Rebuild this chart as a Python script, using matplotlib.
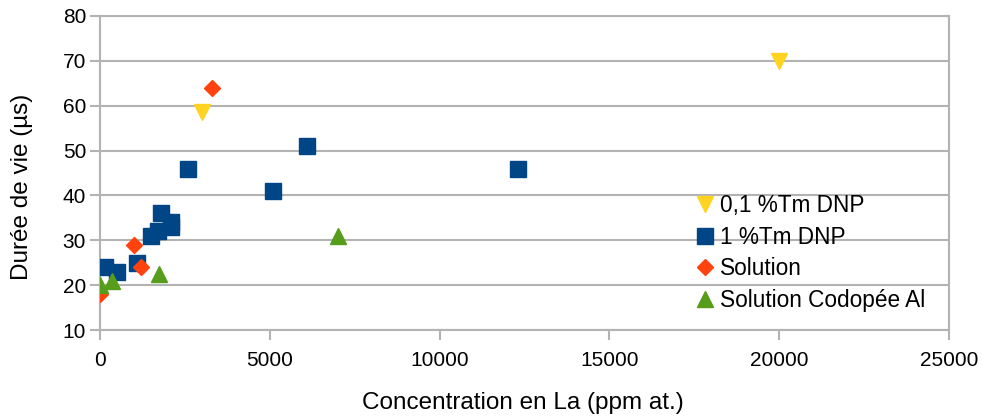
import matplotlib
matplotlib.use("Agg")
import matplotlib.pyplot as plt

plt.rcParams['font.family'] = ['Liberation Sans', 'DejaVu Sans']

# Data
tm01_x = [3000, 20000]
tm01_y = [58.5, 70]

tm1_x = [150, 500, 1100, 1500, 1700, 1800, 2100, 2100, 2600, 5100, 6100, 12300]
tm1_y = [24, 23, 25, 31, 32, 36, 34, 33, 46, 41, 51, 46]

sol_x = [0, 1000, 1200, 3300]
sol_y = [18, 29, 24, 64]

al_x = [0, 350, 1750, 7000]
al_y = [20, 21, 22.5, 31]

labels = ["0,1 %Tm DNP", "1 %Tm DNP", "Solution", "Solution Codopée Al"]
colors = ["#FFD320", "#004586", "#FF420E", "#579D1C"]

W, H = 984, 419
fig = plt.figure(figsize=(W / 100, H / 100), dpi=100)
ax = fig.add_axes([100 / W, 1 - 330 / H, 849 / W, 314 / H])

grid_c = "#B3B3B3"
fs_tick = 15
fs_lab = 17.5
fs_leg = 16.3

ax.plot(tm01_x, tm01_y, linestyle='none', marker='v', ms=12, color=colors[0], label=labels[0], zorder=3)
ax.plot(tm1_x, tm1_y, linestyle='none', marker='s', ms=11.5, color=colors[1], label=labels[1], zorder=3)
ax.plot(sol_x, sol_y, linestyle='none', marker='D', ms=8, color=colors[2], label=labels[2], zorder=3)
ax.plot(al_x, al_y, linestyle='none', marker='^', ms=12, color=colors[3], label=labels[3], zorder=3)

ax.set_xlim(0, 25000)
ax.set_ylim(10, 80)
ax.set_xticks(range(0, 25001, 5000))
ax.set_yticks(range(10, 81, 10))
ax.yaxis.grid(True, color=grid_c, linewidth=1.5)
ax.set_axisbelow(True)
for s in ax.spines.values():
    s.set_color(grid_c)
    s.set_linewidth(1.5)
ax.tick_params(axis='both', colors=grid_c, length=7, width=1.5, labelsize=fs_tick, labelcolor='black')
ax.tick_params(axis='x', pad=8)
ax.tick_params(axis='y', pad=3)

fig.text(523 / W, 1 - 403 / H, "Concentration en La (ppm at.)", fontsize=fs_lab, ha='center', va='center')
fig.text(22 / W, 1 - 187 / H, "Durée de vie (µs)", fontsize=fs_lab, ha='center', va='center', rotation=90)

leg = ax.legend(loc='upper left', bbox_to_anchor=(697 / W, 1 - 194 / H), bbox_transform=fig.transFigure,
                frameon=False, fontsize=fs_leg, handlelength=0.7, handletextpad=0.3,
                labelspacing=0.38, borderpad=0, borderaxespad=0)

fig.savefig("out.png", dpi=100)
